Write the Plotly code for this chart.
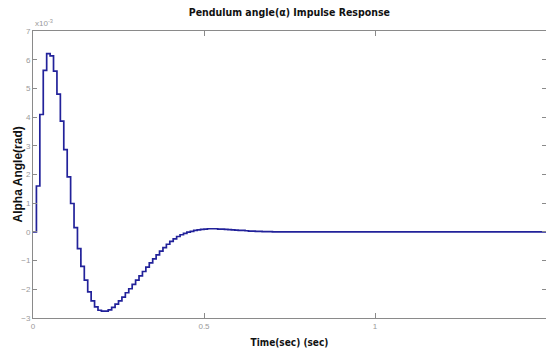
import plotly.graph_objects as go

# Sample times (s) and held values (x1e-3 rad), zero-order hold with dt = 0.01
t_vals = [round(0.01 * k, 2) for k in range(76)] + [1.5]
alpha_vals = [
    0.00, 1.60, 4.09, 5.63, 6.21, 6.13, 5.60, 4.80, 3.86, 2.87,
    1.92, 0.99, 0.15, -0.58, -1.20, -1.68, -2.09, -2.40, -2.61, -2.73,
    -2.76, -2.76, -2.72, -2.63, -2.52, -2.40, -2.27, -2.12, -1.98, -1.83,
    -1.68, -1.53, -1.38, -1.23, -1.08, -0.94, -0.80, -0.67, -0.55, -0.43,
    -0.33, -0.24, -0.16, -0.10, -0.05, -0.01, 0.02, 0.05, 0.07, 0.09,
    0.10, 0.11, 0.11, 0.11, 0.10, 0.10, 0.09, 0.08, 0.07, 0.06,
    0.05, 0.05, 0.04, 0.03, 0.03, 0.02, 0.02, 0.01, 0.01, 0.01,
    0.00, 0.00, 0.00, 0.00, 0.00, 0.00, 0.00,
]

x_ticks = [0, 0.5, 1, 1.5]
x_tick_text = ["0", "0.5", "1", "1.5"]
y_ticks = [-3, -2, -1, 0, 1, 2, 3, 4, 5, 6, 7]

title_text = "Pendulum angle(\u03b1) Impulse Response"
x_title = "Time(sec) (sec)"
y_title = "Alpha Angle(rad)"

narrow = "DejaVu Sans Condensed, Liberation Sans Narrow, Arial Narrow, Liberation Sans"

fig = go.Figure()
fig.add_trace(go.Scatter(
    x=t_vals, y=alpha_vals, mode="lines",
    line=dict(shape="hv", color="#22229a", width=1.7),
    showlegend=False, hoverinfo="skip",
))

axis_col = "#8a8a8a"
fig.update_layout(
    width=546, height=350,
    margin=dict(l=33, r=0, t=31, b=32),
    paper_bgcolor="white", plot_bgcolor="white",
    title=dict(text="<b>" + title_text + "</b>", x=0.53, xanchor="center",
               y=0.965, yanchor="middle",
               font=dict(family=narrow, size=10.5, color="#111")),
    xaxis=dict(range=[0, 1.5], tickvals=x_ticks, ticktext=x_tick_text,
               showgrid=False, zeroline=False, showline=True, linecolor=axis_col, linewidth=1,
               mirror="ticks", ticks="inside", ticklen=5, tickcolor=axis_col,
               tickfont=dict(family="Liberation Sans", size=8, color="#9a9a9a"),
               title=dict(text="<b>" + x_title + "</b>", standoff=9,
                          font=dict(family=narrow, size=10, color="#111"))),
    yaxis=dict(range=[-3, 7], tickvals=y_ticks,
               showgrid=False, zeroline=False, showline=True, linecolor=axis_col, linewidth=1,
               mirror="ticks", ticks="inside", ticklen=4, tickcolor=axis_col,
               tickfont=dict(family="Liberation Sans", size=8, color="#9a9a9a")),
    annotations=[
        dict(text="x10<sup>-3</sup>", xref="paper", yref="paper", x=0, y=1,
             xanchor="left", yanchor="bottom", showarrow=False, yshift=1,
             font=dict(family="Liberation Sans", size=8, color="#9a9a9a")),
        dict(text="<b>" + y_title + "</b>", xref="paper", yref="paper", x=0, y=0.5,
             xanchor="center", yanchor="middle", textangle=-90, showarrow=False, xshift=-16,
             font=dict(family="Liberation Sans", size=12, color="#111")),
    ],
)

fig.write_html("out.html")
